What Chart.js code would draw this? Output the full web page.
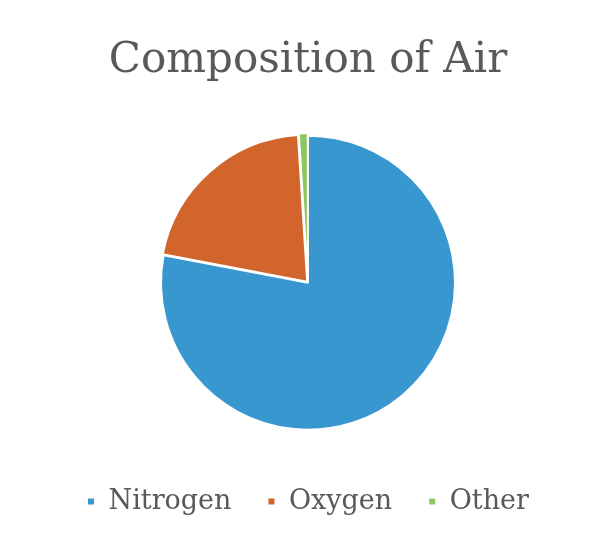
<!DOCTYPE html>
<html>
<head>
<meta charset="utf-8">
<script src="https://cdn.jsdelivr.net/npm/chart.js@4"></script>
<style>
  html, body { margin: 0; padding: 0; background: #fff; }
  #wrap { width: 616px; height: 549px; }
</style>
</head>
<body>
<div id="wrap"><canvas id="c"></canvas></div>
<script>
const labels = ['Nitrogen', 'Oxygen', 'Other'];
const values = [78, 21, 1];
const colors = ['#3897cf', '#d2652c', '#8dc660'];

const serif = '"DejaVu Serif", "Liberation Serif", serif';

new Chart(document.getElementById('c'), {
    type: 'pie',
    data: {
        labels,
        datasets: [{
            data: values,
            backgroundColor: colors,
            borderColor: '#fff',
            borderWidth: 2,
            offset: [0, 5, 5],
            radius: 147,
        }],
    },
    options: {
        responsive: true,
        maintainAspectRatio: false,
        animation: false,
        layout: { padding: { top: 0, bottom: 24, left: 0, right: 0 } },
        plugins: {
            title: {
                display: true,
                text: 'Composition of Air',
                color: '#595959',
                font: { family: serif, size: 42, weight: 'normal' },
                padding: { top: 36, bottom: 27 },
            },
            legend: {
                position: 'bottom',
                labels: {
                    color: '#595959',
                    font: { family: serif, size: 27 },
                    boxWidth: 8,
                    boxHeight: 8,
                    padding: 36,
                },
            },
            tooltip: { enabled: false },
        },
    },
});
</script>
</body>
</html>
